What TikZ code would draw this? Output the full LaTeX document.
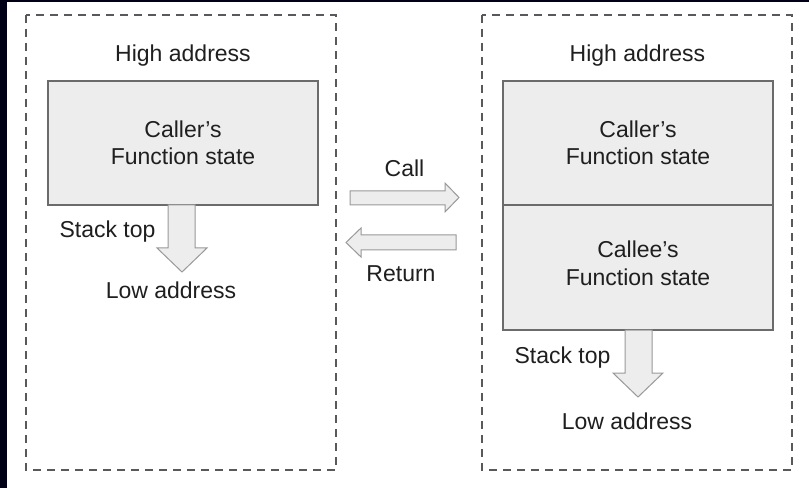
\documentclass[tikz,border=0pt]{standalone}
\usepackage{fontspec}
\setmainfont{Liberation Sans}
\begin{document}
\begin{tikzpicture}[x=1bp,y=-1bp,
  lbl/.style={anchor=base,inner sep=0pt,text=black!88,font=\fontsize{23bp}{27bp}\selectfont},
  frame/.style={draw=black!65,line width=2bp,dash pattern=on 8bp off 6bp},
  statebox/.style={draw=black!58,line width=1.6bp,fill=black!7},
  blockarrow/.style={draw=black!40,line width=1bp,fill=black!7,line join=miter}]
\useasboundingbox (0,0) rectangle (809,488);
\fill[white] (-10,-10) rectangle (820,500);
\fill[black!85!blue!60!black] (-10,-10) rectangle (7,500);
\fill[black!85!blue!60!black] (-10,-10) rectangle (820,2);
% frames
\draw[frame] (26,15) rectangle (336,470);
\draw[frame] (482,15) rectangle (792,470);
% left column
\node[lbl] (hl) at (183,62) {High address};
\draw[statebox] (48,81) rectangle (318,205);
\node[lbl] (c1) at (183,138) {Caller’s};
\node[lbl] (f1) at (183,165) {Function state};
\draw[blockarrow] (168,205) -- (195,205) -- (195,248) -- (207,248) -- (182,272) -- (157,248) -- (168,248) -- cycle;
\node[lbl] (st1) at (107.5,238) {Stack top};
\node[lbl] (la1) at (171,299) {Low address};
% middle arrows
\node[lbl] (call) at (404.5,177) {Call};
\draw[blockarrow] (350,191) -- (445,191) -- (445,183) -- (459,197.5) -- (445,212) -- (445,205) -- (350,205) -- cycle;
\draw[blockarrow] (456,235) -- (361,235) -- (361,228) -- (346,242.5) -- (361,257) -- (361,250) -- (456,250) -- cycle;
\node[lbl] (ret) at (401,282) {Return};
% right column
\node[lbl] (hr) at (637.5,62) {High address};
\draw[statebox] (503,81) rectangle (773,205);
\draw[statebox] (503,205) rectangle (773,330);
\node[lbl] (c2) at (638,138) {Caller’s};
\node[lbl] (f2) at (638,165) {Function state};
\node[lbl] (c3) at (638,258) {Callee’s};
\node[lbl] (f3) at (638,286) {Function state};
\draw[blockarrow] (625,330) -- (652,330) -- (652,373) -- (663,373) -- (638,397) -- (613,373) -- (625,373) -- cycle;
\node[lbl] (st2) at (562.5,363) {Stack top};
\node[lbl] (la2) at (627,429) {Low address};
\end{tikzpicture}
\end{document}
